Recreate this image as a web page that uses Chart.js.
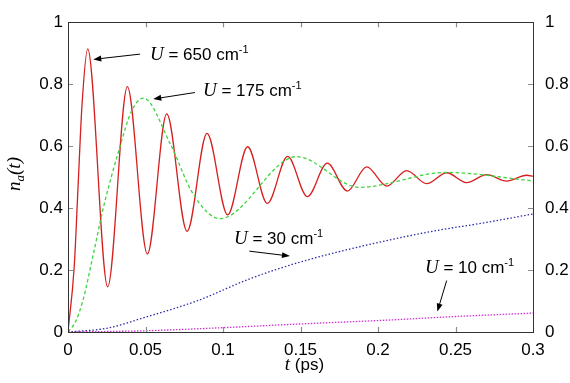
<!DOCTYPE html>
<html>
<head>
<meta charset="utf-8">
<script src="https://cdn.jsdelivr.net/npm/chart.js@4/dist/chart.umd.min.js"></script>
<style>
    html, body { margin: 0; padding: 0; background: #fff; }
    #wrap { width: 570px; height: 383px; }
</style>
</head>
<body>
<div id="wrap"><canvas id="chart" width="570" height="383"></canvas></div>
<script>
// ── DATA ─────────────────────────────────────────────

var xTicks      = [0, 0.05, 0.1, 0.15, 0.2, 0.25, 0.3];
var xTickLabels = ['0', '0.05', '0.1', '0.15', '0.2', '0.25', '0.3'];
var yTicks      = [0, 0.2, 0.4, 0.6, 0.8, 1];
var yTickLabels = ['0', '0.2', '0.4', '0.6', '0.8', '1'];

// U = 650 cm-1 (red, solid)
var redT = [0, 0.004, 0.0065, 0.009, 0.0127, 0.0256, 0.0383, 0.0512, 0.0637, 0.0768, 0.0897, 0.1030,
            0.1159, 0.1286, 0.1417, 0.1544, 0.1673, 0.1802, 0.1927, 0.2056, 0.2185, 0.2314, 0.2443,
            0.2572, 0.2701, 0.2830, 0.2959, 0.3];
var redN = [0, 0.21, 0.47, 0.73, 0.914, 0.146, 0.792, 0.252, 0.704, 0.325, 0.641, 0.378,
            0.598, 0.415, 0.567, 0.437, 0.545, 0.455, 0.533, 0.471, 0.521, 0.479, 0.514,
            0.482, 0.508, 0.487, 0.506, 0.503];

// U = 175 cm-1 (green, dashed)
var greenT = [0, 0.005, 0.0095, 0.0163, 0.0226, 0.0335, 0.041, 0.0486, 0.0658, 0.0808, 0.098,
              0.1475, 0.188, 0.244, 0.3];
var greenN = [0, 0.035, 0.10, 0.25, 0.397, 0.598, 0.713, 0.755, 0.609, 0.445, 0.366,
              0.566, 0.467, 0.515, 0.488];

// U = 30 cm-1 (blue, dotted)
var blueT = [0, 0.025, 0.05, 0.083, 0.1174, 0.15, 0.1948, 0.235, 0.268, 0.3];
var blueN = [0, 0.012, 0.048, 0.10, 0.172, 0.226, 0.283, 0.325, 0.352, 0.381];

// U = 10 cm-1 (magenta, dotted)
var magT = [0, 0.05, 0.1, 0.15, 0.2045, 0.25, 0.3];
var magN = [0, 0.004, 0.014, 0.026, 0.038, 0.05, 0.061];

// ── HELPERS ──────────────────────────────────────────

function points(ts, ns) {
    var out = [];
    for (var i = 0; i < ts.length; i++) {
        out.push({ x: ts[i], y: ns[i] });
    }
    return out;
}

var SANS  = '"Liberation Sans", Arial, Helvetica, sans-serif';
var SERIF = '"Liberation Serif", "Times New Roman", serif';

// draw a row of text pieces, each with its own font and vertical shift
function drawRich(c, x, y, parts) {
    c.textAlign = 'left';
    c.textBaseline = 'alphabetic';
    for (var i = 0; i < parts.length; i++) {
        c.font = parts[i].font;
        c.fillText(parts[i].text, x, y + (parts[i].dy || 0));
        x += c.measureText(parts[i].text).width;
    }
}

function richWidth(c, parts) {
    var w = 0;
    for (var i = 0; i < parts.length; i++) {
        c.font = parts[i].font;
        w += c.measureText(parts[i].text).width;
    }
    return w;
}

function uLabel(value) {
    return [
        { text: 'U', font: 'italic 19px ' + SERIF },
        { text: ' = ' + value + ' cm', font: '17px ' + SANS },
        { text: '-1', font: '11px ' + SANS, dy: -7 }
    ];
}

function arrow(c, x1, y1, x2, y2) {
    var ang = Math.atan2(y2 - y1, x2 - x1);
    var len = 8, half = 3;
    c.strokeStyle = '#000';
    c.fillStyle = '#000';
    c.lineWidth = 1;
    c.beginPath();
    c.moveTo(x1, y1);
    c.lineTo(x2 - Math.cos(ang) * len * 0.8, y2 - Math.sin(ang) * len * 0.8);
    c.stroke();
    c.beginPath();
    c.moveTo(x2, y2);
    c.lineTo(x2 - Math.cos(ang) * len + Math.sin(ang) * half, y2 - Math.sin(ang) * len - Math.cos(ang) * half);
    c.lineTo(x2 - Math.cos(ang) * len - Math.sin(ang) * half, y2 - Math.sin(ang) * len + Math.cos(ang) * half);
    c.closePath();
    c.fill();
}

// ── ANNOTATIONS (data coordinates) ───────────────────

var notes = [
    { label: '650', tx: 0.0529, ty: 0.879, ax: 0.0465, ay: 0.897, hx: 0.0163, hy: 0.880 },
    { label: '175', tx: 0.0871, ty: 0.761, ax: 0.0819, ay: 0.773, hx: 0.055,  hy: 0.752 },
    { label: '30',  tx: 0.1071, ty: 0.283, ax: 0.117,  ay: 0.261, hx: 0.1432, hy: 0.245 },
    { label: '10',  tx: 0.2303, ty: 0.190, ax: 0.2443, ay: 0.166, hx: 0.2383, hy: 0.066 }
];

// ── FRAME, TICKS, LABELS PLUGIN ──────────────────────

var decor = {
    id: 'decor',
    afterDatasetsDraw: function(chart) {
        var c = chart.ctx;
        var a = chart.chartArea;
        var sx = chart.scales.x;
        var sy = chart.scales.y;
        c.save();

        // inner tick marks on all four sides
        c.strokeStyle = '#8c8c8c';
        c.lineWidth = 1.2;
        c.beginPath();
        for (var i = 1; i < xTicks.length - 1; i++) {
            var px = Math.round(sx.getPixelForValue(xTicks[i])) + 0.5;
            c.moveTo(px, a.bottom); c.lineTo(px, a.bottom - 5);
            c.moveTo(px, a.top);    c.lineTo(px, a.top + 5);
        }
        for (var j = 1; j < yTicks.length - 1; j++) {
            var py = Math.round(sy.getPixelForValue(yTicks[j])) + 0.5;
            c.moveTo(a.left, py);  c.lineTo(a.left + 5, py);
            c.moveTo(a.right, py); c.lineTo(a.right - 5, py);
        }
        c.stroke();

        // frame
        c.strokeStyle = '#333';
        c.lineWidth = 1;
        c.strokeRect(Math.round(a.left) + 0.5, Math.round(a.top) + 0.5,
                     Math.round(a.right - a.left), Math.round(a.bottom - a.top));

        // annotations
        c.fillStyle = '#000';
        for (var k = 0; k < notes.length; k++) {
            var n = notes[k];
            drawRich(c, sx.getPixelForValue(n.tx), sy.getPixelForValue(n.ty), uLabel(n.label));
            arrow(c, sx.getPixelForValue(n.ax), sy.getPixelForValue(n.ay),
                     sx.getPixelForValue(n.hx), sy.getPixelForValue(n.hy));
        }

        // x axis title
        c.fillStyle = '#000';
        var xt = [
            { text: 't', font: 'italic 19px ' + SERIF },
            { text: ' (ps)', font: '17px ' + SANS }
        ];
        var xw = richWidth(c, xt);
        drawRich(c, (a.left + a.right) / 2 + 4 - xw / 2, 370, xt);

        // y axis title, rotated
        var yt = [
            { text: 'n', font: 'italic 19px ' + SERIF },
            { text: 'a', font: 'italic 13px ' + SERIF, dy: 4 },
            { text: '(t)', font: 'italic 19px ' + SERIF }
        ];
        var yw = richWidth(c, yt);
        c.translate(20, 174 + yw / 2);
        c.rotate(-Math.PI / 2);
        drawRich(c, 0, 0, yt);

        c.restore();
    }
};

// ── CHART SETUP ──────────────────────────────────────

var ctx = document.getElementById('chart').getContext('2d');

function lineSet(data, color, width, dash) {
    return {
        data: data,
        borderColor: color,
        backgroundColor: color,
        borderWidth: width,
        borderDash: dash,
        pointRadius: 0,
        fill: false,
        cubicInterpolationMode: 'monotone'
    };
}

function fixedTicks(values) {
    return function(scale) {
        scale.ticks = values.map(function(v) { return { value: v }; });
    };
}

var tickFont = { family: SANS, size: 17 };
var noGrid   = { display: false, drawTicks: false };

var chart = new Chart(ctx, {
    type: 'line',
    data: {
        datasets: [
            lineSet(points(magT, magN),     '#cc33cc', 1.3, [1.5, 1.5]),
            lineSet(points(blueT, blueN),   '#2b2ba8', 1.3, [1.5, 2]),
            lineSet(points(greenT, greenN), '#3fd43f', 1.3, [3.5, 2.5]),
            lineSet(points(redT, redN),     '#d61f1f', 1.3, [])
        ]
    },
    options: {
        responsive: false,
        animation: false,
        devicePixelRatio: 1,
        layout: { padding: { top: 17, left: 0, right: 0, bottom: 0 } },
        plugins: {
            legend: { display: false },
            tooltip: { enabled: false }
        },
        scales: {
            x: {
                type: 'linear',
                min: 0,
                max: 0.3,
                grid: noGrid,
                border: { display: false },
                afterBuildTicks: fixedTicks(xTicks),
                afterFit: function(s) { s.height = 51; },
                ticks: {
                    font: tickFont,
                    color: '#000',
                    padding: 8,
                    maxRotation: 0,
                    callback: function(v, i) { return xTickLabels[i]; }
                }
            },
            y: {
                type: 'linear',
                position: 'left',
                min: 0,
                max: 1,
                grid: noGrid,
                border: { display: false },
                afterBuildTicks: fixedTicks(yTicks),
                afterFit: function(s) { s.width = 68; },
                ticks: {
                    font: tickFont,
                    color: '#000',
                    padding: 5,
                    callback: function(v, i) { return yTickLabels[i]; }
                }
            },
            y2: {
                type: 'linear',
                position: 'right',
                min: 0,
                max: 1,
                grid: noGrid,
                border: { display: false },
                afterBuildTicks: fixedTicks(yTicks),
                afterFit: function(s) { s.width = 37; },
                ticks: {
                    font: tickFont,
                    color: '#000',
                    padding: 12,
                    callback: function(v, i) { return yTickLabels[i]; }
                }
            }
        }
    },
    plugins: [decor]
});
</script>
</body>
</html>
